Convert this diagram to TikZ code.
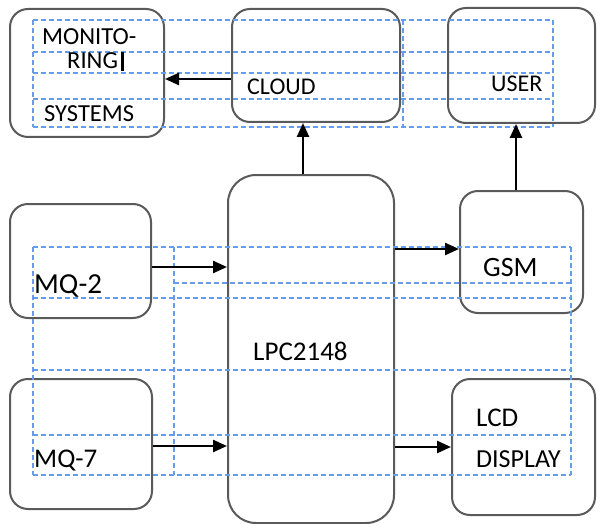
\documentclass[tikz,border=0pt]{standalone}
\usepackage{fontspec}
\setmainfont{Carlito}
\usetikzlibrary{arrows.meta}
\definecolor{tblblue}{RGB}{105,155,235}
\definecolor{boxgray}{RGB}{90,90,90}
\tikzset{
  blk/.style={draw=boxgray, line width=2pt, rounded corners=18pt, inner sep=0pt},
  arr/.style={line width=2.4pt, -{Triangle[length=14pt,width=12pt]}},
  tblline/.style={draw=tblblue, line width=1.2pt, dash pattern=on 5pt off 3pt},
  txt/.style={font=\fontsize{#1}{#1}\selectfont, anchor=base west, inner sep=0pt}
}
\begin{document}
\begin{tikzpicture}[x=1pt,y=-1pt]
\useasboundingbox[fill=white] (0,0) rectangle (597,524);

\node[blk, minimum width=154pt, minimum height=128pt] (mon) at (87,73) {};
\node[blk, minimum width=168pt, minimum height=113pt] (cloud) at (316,65.5) {};
\node[blk, minimum width=147pt, minimum height=115pt] (user) at (521.5,65.5) {};
\node[blk, minimum width=141pt, minimum height=114pt] (mq2) at (80.5,261) {};
\node[blk, minimum width=166pt, minimum height=348pt, rounded corners=28pt] (lpc) at (311,349) {};
\node[blk, minimum width=123pt, minimum height=122pt] (gsm) at (521.5,252) {};
\node[blk, minimum width=142pt, minimum height=130pt] (mq7) at (81,444) {};
\node[blk, minimum width=143pt, minimum height=136pt] (lcd) at (523.5,447) {};

\foreach \y in {20,52,73,99,127}
  \draw[tblline] (33,\y) -- (553,\y);
\foreach \x in {33,403,553}
  \draw[tblline] (\x,20) -- (\x,127);
\foreach \y in {247,298,370,435,475}
  \draw[tblline] (33,\y) -- (571,\y);
\draw[tblline] (174,283) -- (571,283);
\foreach \x in {33,174,571}
  \draw[tblline] (\x,247) -- (\x,475);

\node[txt=24.5] (monA) at (42,45) {MONITO-};
\node[txt=24.5] (monB) at (67,69) {RING};
\node[txt=24.5] (monC) at (44,122) {SYSTEMS};
\node[txt=24] (cloudT) at (247,95) {CLOUD};
\node[txt=24] (userT) at (491,92) {USER};
\node[txt=29] (mq2T) at (34,293) {MQ-2};
\node[txt=27] (lpcT) at (253,360) {LPC2148};
\node[txt=28] (gsmT) at (483,276) {GSM};
\node[txt=27] (lcdT) at (476,426) {LCD};
\node[txt=26] (dispT) at (476,467) {DISPLAY};
\node[txt=27] (mq7T) at (34,467) {MQ-7};
\draw[line width=3pt] (monB.base east) ++(4,2) -- ++(0,-19);

\draw[arr] (cloud.west |- 0,79) -- (mon.east |- 0,79);
\draw[arr] (lpc.north -| 303,0) -- (cloud.south -| 303,0);
\draw[arr] (gsm.north -| 516,0) -- (user.south -| 516,0);
\draw[arr] (mq2.east |- 0,267) -- (lpc.west |- 0,267);
\draw[arr] (lpc.east |- 0,249) -- (gsm.west |- 0,249);
\draw[arr] (mq7.east |- 0,446) -- (lpc.west |- 0,446);
\draw[arr] (lpc.east |- 0,447) -- (lcd.west |- 0,447);
\end{tikzpicture}
\end{document}
